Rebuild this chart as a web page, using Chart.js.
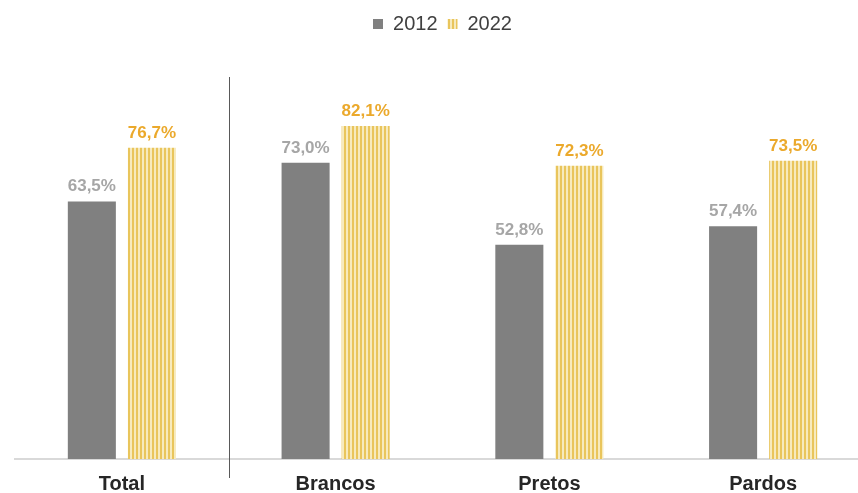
<!DOCTYPE html>
<html>
<head>
<meta charset="utf-8">
<script src="https://cdn.jsdelivr.net/npm/chart.js@4/dist/chart.umd.min.js"></script>
<style>
  html, body { margin: 0; padding: 0; background: #fff; overflow: hidden; }
  #wrap { width: 870px; height: 493px; }
</style>
</head>
<body>
<div id="wrap"><canvas id="bars" width="870" height="493"></canvas></div>
<script>
const categories = ['Total', 'Brancos', 'Pretos', 'Pardos'];
const values2012 = [63.5, 73.0, 52.8, 57.4];
const values2022 = [76.7, 82.1, 72.3, 73.5];
const seriesLabels = ['2012', '2022'];

// vertical stripes for the 2022 bars
function stripes() {
  const c = document.createElement('canvas');
  c.width = 4; c.height = 4;
  const g = c.getContext('2d');
  g.fillStyle = '#f7eabd';
  g.fillRect(0, 0, 4, 4);
  g.fillStyle = '#e9c55c';
  g.fillRect(0, 0, 2, 4);
  return g.createPattern(c, 'repeat');
}

const pct = v => v.toFixed(1).replace('.', ',') + '%';

const valueLabels = {
  id: 'valueLabels',
  afterDatasetsDraw(chart) {
    const ctx = chart.ctx;
    ctx.save();
    ctx.font = 'bold 17px "Liberation Sans", Arial, sans-serif';
    ctx.textAlign = 'center';
    ctx.textBaseline = 'alphabetic';
    chart.data.datasets.forEach((ds, i) => {
      ctx.fillStyle = i === 0 ? '#a6a6a6' : '#eba92c';
      chart.getDatasetMeta(i).data.forEach((bar, j) => {
        ctx.fillText(pct(ds.data[j]), bar.x, bar.y - 10);
      });
    });
    ctx.restore();
  }
};

const divider = {
  id: 'divider',
  afterDraw(chart) {
    const { ctx, chartArea, scales } = chart;
    const x = Math.round((scales.x.getPixelForValue(0) + scales.x.getPixelForValue(1)) / 2) + 0.5;
    ctx.save();
    ctx.strokeStyle = '#595959';
    ctx.lineWidth = 1;
    ctx.beginPath();
    ctx.moveTo(x, chartArea.top + 33);
    ctx.lineTo(x, chartArea.bottom + 19);
    ctx.stroke();
    ctx.restore();
  }
};

const ctx = document.getElementById('bars').getContext('2d');
const gold = stripes();

new Chart(ctx, {
  type: 'bar',
  data: {
    labels: categories,
    datasets: [
      { label: seriesLabels[0], data: values2012, backgroundColor: '#808080', borderWidth: 0 },
      { label: seriesLabels[1], data: values2022, backgroundColor: gold, borderWidth: 0 }
    ]
  },
  options: {
    responsive: false,
    animation: false,
    layout: { padding: { top: 4, left: 15, right: 0, bottom: 0 } },
    categoryPercentage: 0.562,
    barPercentage: 0.8,
    plugins: {
      tooltip: { enabled: false },
      legend: {
        position: 'top',
        labels: {
          color: '#404040',
          font: { family: '"Liberation Sans", Arial, sans-serif', size: 20 },
          boxWidth: 10,
          boxHeight: 10,
          padding: 10
        }
      }
    },
    scales: {
      x: {
        grid: { display: false, drawTicks: false },
        border: { display: true, color: '#d9d9d9', width: 2 },
        ticks: {
          color: '#262626',
          padding: 15,
          font: { family: '"Liberation Sans", Arial, sans-serif', size: 20, weight: 'bold', lineHeight: 1 }
        },
        afterFit(scale) { scale.height = 34; }
      },
      y: {
        display: false,
        min: 0,
        max: 102.3
      }
    }
  },
  plugins: [valueLabels, divider]
});
</script>
</body>
</html>
